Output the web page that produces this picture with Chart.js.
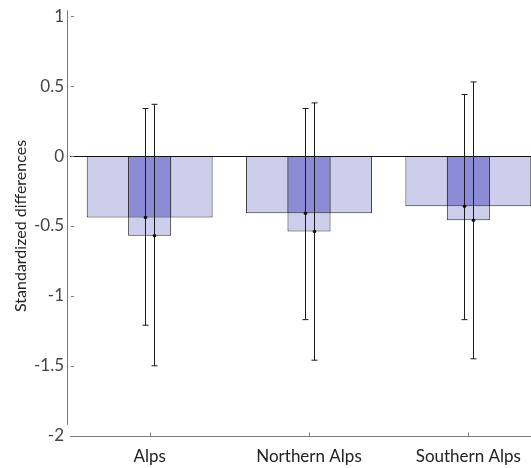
<!DOCTYPE html>
<html><head><meta charset="utf-8">
<script src="https://cdn.jsdelivr.net/npm/chart.js@4/dist/chart.umd.min.js"></script>
<style>
html,body{margin:0;padding:0;background:#fff;overflow:hidden;}
#wrap{width:531px;height:468px;overflow:hidden;position:relative;}
canvas{position:absolute;left:0;top:0;}
</style></head>
<body><div id="wrap"><canvas id="c" width="548" height="468"></canvas></div>
<script>
const categories = ['Alps', 'Northern Alps', 'Southern Alps'];
const wideMeans = [-0.44, -0.41, -0.36];
const narrowMeans = [-0.57, -0.54, -0.46];
const wideLow = [-1.21, -1.17, -1.17];
const wideHigh = [0.34, 0.34, 0.44];
const narrowLow = [-1.50, -1.46, -1.45];
const narrowHigh = [0.37, 0.38, 0.53];
const yTicks = [1, 0.5, 0, -0.5, -1, -1.5, -2];
const yTickLabels = ['1', '0.5', '0', '-0.5', '-1', '-1.5', '-2'];
const overlap = wideMeans.map((w, i) => Math.max(w, narrowMeans[i]));

const LIGHT = '#CDCDEC', DARK = '#8C8CD6', EDGE = '#2a2a2a', AXIS = '#7a7a7a';
const FONT = 'Lato';

const axesPlugin = {
  id: 'axesPlugin',
  afterDatasetsDraw(chart) {
    const ctx = chart.ctx, a = chart.chartArea, y = chart.scales.y, x = chart.scales.x;
    ctx.save();
    // zero line
    ctx.strokeStyle = '#111'; ctx.lineWidth = 1;
    const y0 = Math.round(y.getPixelForValue(0)) + 0.5;
    ctx.beginPath(); ctx.moveTo(a.left, y0); ctx.lineTo(a.right, y0); ctx.stroke();
    // error bars
    const meta = chart.getDatasetMeta(1);
    ctx.strokeStyle = '#1a1a1a'; ctx.fillStyle = '#111';
    const sets = [[wideMeans, wideLow, wideHigh, -4.5], [narrowMeans, narrowLow, narrowHigh, 4.5]];
    categories.forEach((c, i) => {
      const cx = meta.data[i].x;
      sets.forEach(([m, lo, hi, off]) => {
        const px = Math.round(cx + off) + 0.5;
        const yl = y.getPixelForValue(lo[i]), yh = y.getPixelForValue(hi[i]), ym = y.getPixelForValue(m[i]);
        ctx.beginPath();
        ctx.moveTo(px, yh); ctx.lineTo(px, yl);
        ctx.moveTo(px - 3, yh); ctx.lineTo(px + 3, yh);
        ctx.moveTo(px - 3, yl); ctx.lineTo(px + 3, yl);
        ctx.stroke();
        ctx.beginPath(); ctx.arc(px, ym, 1.8, 0, Math.PI * 2); ctx.fill();
      });
    });
    // axes
    ctx.strokeStyle = AXIS; ctx.lineWidth = 1;
    const yTop = y.getPixelForValue(1), yBot = y.getPixelForValue(-2);
    const ax = Math.round(a.left - 3) + 0.5;
    ctx.beginPath(); ctx.moveTo(ax, yTop - 6); ctx.lineTo(ax, yBot - 11); ctx.stroke();
    const by = Math.round(yBot) + 0.5;
    ctx.beginPath(); ctx.moveTo(a.left, by); ctx.lineTo(a.right, by); ctx.stroke();
    yTicks.forEach(v => {
      const ty = Math.round(y.getPixelForValue(v)) + 0.5;
      ctx.beginPath(); ctx.moveTo(a.left + 1, ty); ctx.lineTo(a.left + 4, ty); ctx.stroke();
    });
    categories.forEach((c, i) => {
      const tx = Math.round(x.getPixelForValue(i)) + 0.5;
      ctx.beginPath(); ctx.moveTo(tx, by); ctx.lineTo(tx, by - 4); ctx.stroke();
    });
    ctx.restore();
  }
};

new Chart(document.getElementById('c'), {
  type: 'bar',
  data: {
    labels: categories,
    datasets: [
      { data: wideMeans, backgroundColor: LIGHT, borderColor: EDGE, borderWidth: 1, borderSkipped: false,
        barPercentage: 0.79, categoryPercentage: 1, grouped: false, order: 3 },
      { data: narrowMeans, backgroundColor: LIGHT, borderColor: EDGE, borderWidth: 1, borderSkipped: false,
        barPercentage: 0.27, categoryPercentage: 1, grouped: false, order: 2 },
      { data: overlap, backgroundColor: DARK, borderColor: EDGE, borderWidth: 1, borderSkipped: false,
        barPercentage: 0.27, categoryPercentage: 1, grouped: false, order: 1 }
    ]
  },
  options: {
    responsive: false, animation: false,
    layout: { padding: { top: 15.7, right: 0, left: 0, bottom: 0 } },
    plugins: { legend: { display: false }, tooltip: { enabled: false } },
    scales: {
      x: {
        offset: true,
        grid: { display: false, drawTicks: false },
        border: { display: false },
        ticks: { color: '#222', font: { family: FONT, size: 17 }, padding: 11, maxRotation: 0 },
        afterFit(s) { s.height = 32.3; }
      },
      y: {
        min: -2, max: 1,
        grid: { display: false, drawTicks: false },
        border: { display: false },
        afterBuildTicks(s) { s.ticks = yTicks.map(v => ({ value: v })); },
        ticks: { color: '#444', font: { family: FONT, size: 17 }, padding: 6,
          callback: (v) => yTickLabels[yTicks.indexOf(v)] },
        title: { display: true, text: 'Standardized differences', color: '#222',
          font: { family: FONT, size: 16 }, padding: { top: 11, bottom: 0 } },
        afterFit(s) { s.width = 70; }
      }
    }
  },
  plugins: [axesPlugin]
});
</script></body></html>
